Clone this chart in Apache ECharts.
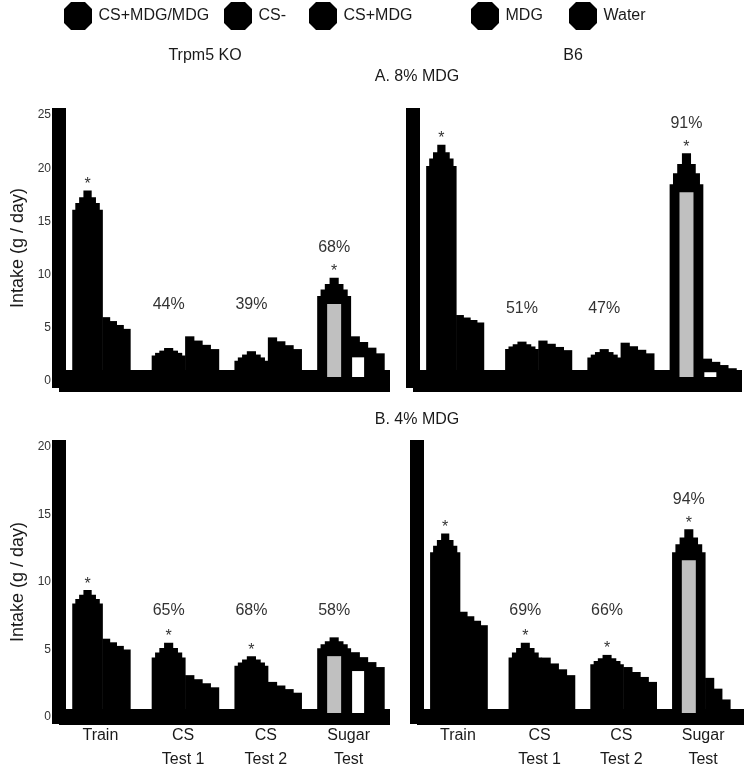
<!DOCTYPE html>
<html>
<head>
<meta charset="utf-8">
<script src="https://cdn.jsdelivr.net/npm/echarts@6.0.0/dist/echarts.min.js"></script>
<style>
html,body{margin:0;padding:0;background:#fff;}
#chart{width:749px;height:767px;}
</style>
</head>
<body>
<div id="chart"></div>
<script>
// ---------- data ----------
const categories = ['Train', 'CS\nTest 1', 'CS\nTest 2', 'Sugar\nTest'];
const legendNames = ['CS+MDG/MDG', 'CS-', 'CS+MDG', 'MDG', 'Water'];

// A. 8% MDG — Trpm5 KO  (left bar = CS+ / MDG, right bar = CS- / Water)
const koA_left     = [16.1, 2.4, 1.9, 8.0];
const koA_leftTop  = [17.9, 3.1, 2.8, 9.7];
const koA_right    = [4.9, 3.0, 3.0, 2.6];
const koA_rightTop = [6.0, 4.2, 4.1, 4.2];
const koA_star     = [true, false, false, true];
const koA_pct      = ['', '44%', '39%', '68%'];

// A. 8% MDG — B6
const b6A_left     = [20.2, 3.0, 2.2, 18.5];
const b6A_leftTop  = [22.2, 3.7, 3.0, 21.4];
const b6A_right    = [5.5, 2.9, 2.6, 1.2];
const b6A_rightTop = [6.2, 3.8, 3.6, 2.1];
const b6A_star     = [true, false, false, true];
const b6A_pct      = ['', '51%', '47%', '91%'];

// B. 4% MDG — Trpm5 KO
const koB_left     = [8.4, 4.4, 3.8, 5.1];
const koB_leftTop  = [9.4, 5.5, 4.5, 5.9];
const koB_right    = [5.0, 2.2, 1.8, 3.7];
const koB_rightTop = [5.8, 3.1, 2.6, 4.8];
const koB_star     = [true, true, true, false];
const koB_pct      = ['', '65%', '68%', '58%'];

// B. 4% MDG — B6
const b6B_left     = [12.2, 4.4, 3.9, 12.2];
const b6B_leftTop  = [13.6, 5.5, 4.6, 13.9];
const b6B_right    = [6.8, 3.1, 2.6, 0.5];
const b6B_rightTop = [7.8, 4.4, 3.7, 2.9];
const b6B_star     = [true, true, true, true];
const b6B_pct      = ['', '69%', '66%', '94%'];

const yMaxA = 25, yMaxB = 20, yStep = 5;

// ---------- drawing ----------
const FONT = '"Liberation Sans", Arial, sans-serif';
const TXT = '#1a1a1a';

function makeRender(L, LT, R, RT, stars, pcts) {
  const csLevel = Math.max(LT[1], LT[2], RT[1], RT[2]);
  return function (params, api) {
    const i = api.value(0);
    const B = api.size([1, 0])[0];
    const c = api.coord([i, 0])[0];
    const y0 = api.coord([i, 0])[1];
    const Y = v => api.coord([i, v])[1];
    const ch = [];
    const isTrain = i === 0;
    const lx0 = c - (isTrain ? 0.34 : 0.38) * B, lx1 = c + 0.03 * B, lw = lx1 - lx0, lc = (lx0 + lx1) / 2;
    const rx0 = lx1, rx1 = c + (isTrain ? 0.36 : 0.43) * B, rw = rx1 - rx0;
    const lm = L[i], lt = LT[i], d = lt - lm;
    [[lm, 1], [lm + 0.35 * d, 0.8], [lm + 0.65 * d, 0.55], [lt, 0.27]].forEach(([v, f]) => {
      const w = lw * f;
      ch.push({type: 'rect', shape: {x: lc - w / 2, y: Y(v), width: w, height: y0 - Y(v)}, style: {fill: '#000'}});
    });
    const rm = R[i], rt = RT[i], rd = rt - rm;
    for (let k = 0; k < 4; k++) {
      const v = rt - k * rd / 3;
      ch.push({type: 'rect', shape: {x: rx0 + k * rw / 4 - 0.5, y: Y(v), width: rw / 4 + 1, height: y0 - Y(v)}, style: {fill: '#000'}});
    }
    if (categories[i].indexOf('Sugar') === 0) {
      const gy = Y(lm) + 8, gh = (y0 - 4) - gy;
      if (gh > 0) ch.push({type: 'rect', shape: {x: lc - 7, y: gy, width: 14, height: gh}, style: {fill: '#c0c0c0'}});
      const wy = Y(rm) + 4, wh = (y0 - 4) - wy;
      if (wh > 0) ch.push({type: 'rect', shape: {x: rx0 + 1, y: wy, width: 12, height: wh}, style: {fill: '#fff'}});
    }
    if (stars[i]) {
      ch.push({type: 'text', style: {text: '*', x: lc, y: Y(lt) - 6, fill: '#333', font: '16px ' + FONT,
        align: 'center', verticalAlign: 'middle', textAlign: 'center', textVerticalAlign: 'middle'}});
    }
    if (pcts[i]) {
      let ly = Y(csLevel) - 32;
      if (stars[i]) ly = Math.min(ly, Y(lt) - 30);
      ch.push({type: 'text', style: {text: pcts[i], x: lc, y: ly, fill: '#333', font: '16px ' + FONT,
        align: 'center', verticalAlign: 'middle', textAlign: 'center', textVerticalAlign: 'middle'}});
    }
    return {type: 'group', children: ch};
  };
}

const panels = [
  {grid: {left: 59, width: 331, top: 115, bottom: 386}, max: yMaxA, showY: true,  showX: false, lw: 22,
   d: [koA_left, koA_leftTop, koA_right, koA_rightTop, koA_star, koA_pct]},
  {grid: {left: 413, width: 329, top: 115, bottom: 386}, max: yMaxA, showY: false, showX: false, lw: 22,
   d: [b6A_left, b6A_leftTop, b6A_right, b6A_rightTop, b6A_star, b6A_pct]},
  {grid: {left: 59, width: 331, top: 447, bottom: 50}, max: yMaxB, showY: true,  showX: true, lw: 16,
   d: [koB_left, koB_leftTop, koB_right, koB_rightTop, koB_star, koB_pct]},
  {grid: {left: 417, width: 327, top: 447, bottom: 50}, max: yMaxB, showY: false, showX: true, lw: 16,
   d: [b6B_left, b6B_leftTop, b6B_right, b6B_rightTop, b6B_star, b6B_pct]}
];

const grids = [], xAxes = [], yAxes = [], series = [];
panels.forEach((p, k) => {
  grids.push(Object.assign({containLabel: false, outerBoundsMode: 'none'}, p.grid));
  xAxes.push({
    type: 'category', gridIndex: k, data: categories, boundaryGap: true,
    axisLine: {show: true, lineStyle: {color: '#000', width: p.lw, cap: 'butt'}},
    axisTick: {show: false},
    axisLabel: {show: p.showX, fontSize: 16, lineHeight: 24, margin: 7,
      color: TXT, fontFamily: FONT, interval: 0}
  });
  yAxes.push({
    type: 'value', gridIndex: k, min: 0, max: p.max, interval: yStep,
    name: p.showY ? 'Intake (g / day)' : '', nameLocation: 'middle', nameRotate: 90, nameGap: 32,
    nameTextStyle: {fontSize: 18, color: TXT, fontFamily: FONT},
    axisLine: {show: true, lineStyle: {color: '#000', width: 14, cap: 'square'}},
    axisTick: {show: false},
    splitLine: {show: false},
    axisLabel: {show: p.showY, fontSize: 12, margin: 8, color: '#333', fontFamily: FONT}
  });
  const [L, LT, R, RT, S, P] = p.d;
  series.push({
    type: 'custom', xAxisIndex: k, yAxisIndex: k, z: 3,
    renderItem: makeRender(L, LT, R, RT, S, P),
    encode: {x: 0, y: 1},
    data: categories.map((c, i) => [i, LT[i]]),
    silent: true
  });
});

// legend entries (empty series only carry the legend symbol)
legendNames.forEach(n => {
  series.push({type: 'bar', name: n, data: [], xAxisIndex: 0, yAxisIndex: 0, itemStyle: {color: '#000'}});
});
const legendLeft = [64, 224, 309, 471, 569];
const legends = legendNames.map((n, i) => ({
  data: [n], left: legendLeft[i], top: 2, orient: 'horizontal', padding: 0,
  itemWidth: 37, itemHeight: 28, selectedMode: false,
  icon: 'path://M3,0H9L12,3V9L9,12H3L0,9V3Z',
  textStyle: {fontSize: 16, color: TXT, fontFamily: FONT, padding: [0, 0, 0, -3]}
}));

const titles = [
  {text: 'Trpm5 KO', left: 205, top: 48},
  {text: 'B6', left: 573, top: 48},
  {text: 'A. 8% MDG', left: 417, top: 69},
  {text: 'B. 4% MDG', left: 417, top: 412}
].map(t => Object.assign({textAlign: 'center', padding: 0,
  textStyle: {fontSize: 16, fontWeight: 'normal', color: TXT, fontFamily: FONT}}, t));

const chart = echarts.init(document.getElementById('chart'), null, {renderer: 'canvas'});
chart.setOption({
  animation: false,
  backgroundColor: '#fff',
  textStyle: {fontFamily: FONT},
  title: titles,
  legend: legends,
  grid: grids,
  xAxis: xAxes,
  yAxis: yAxes,
  series: series
});
</script>
</body>
</html>
